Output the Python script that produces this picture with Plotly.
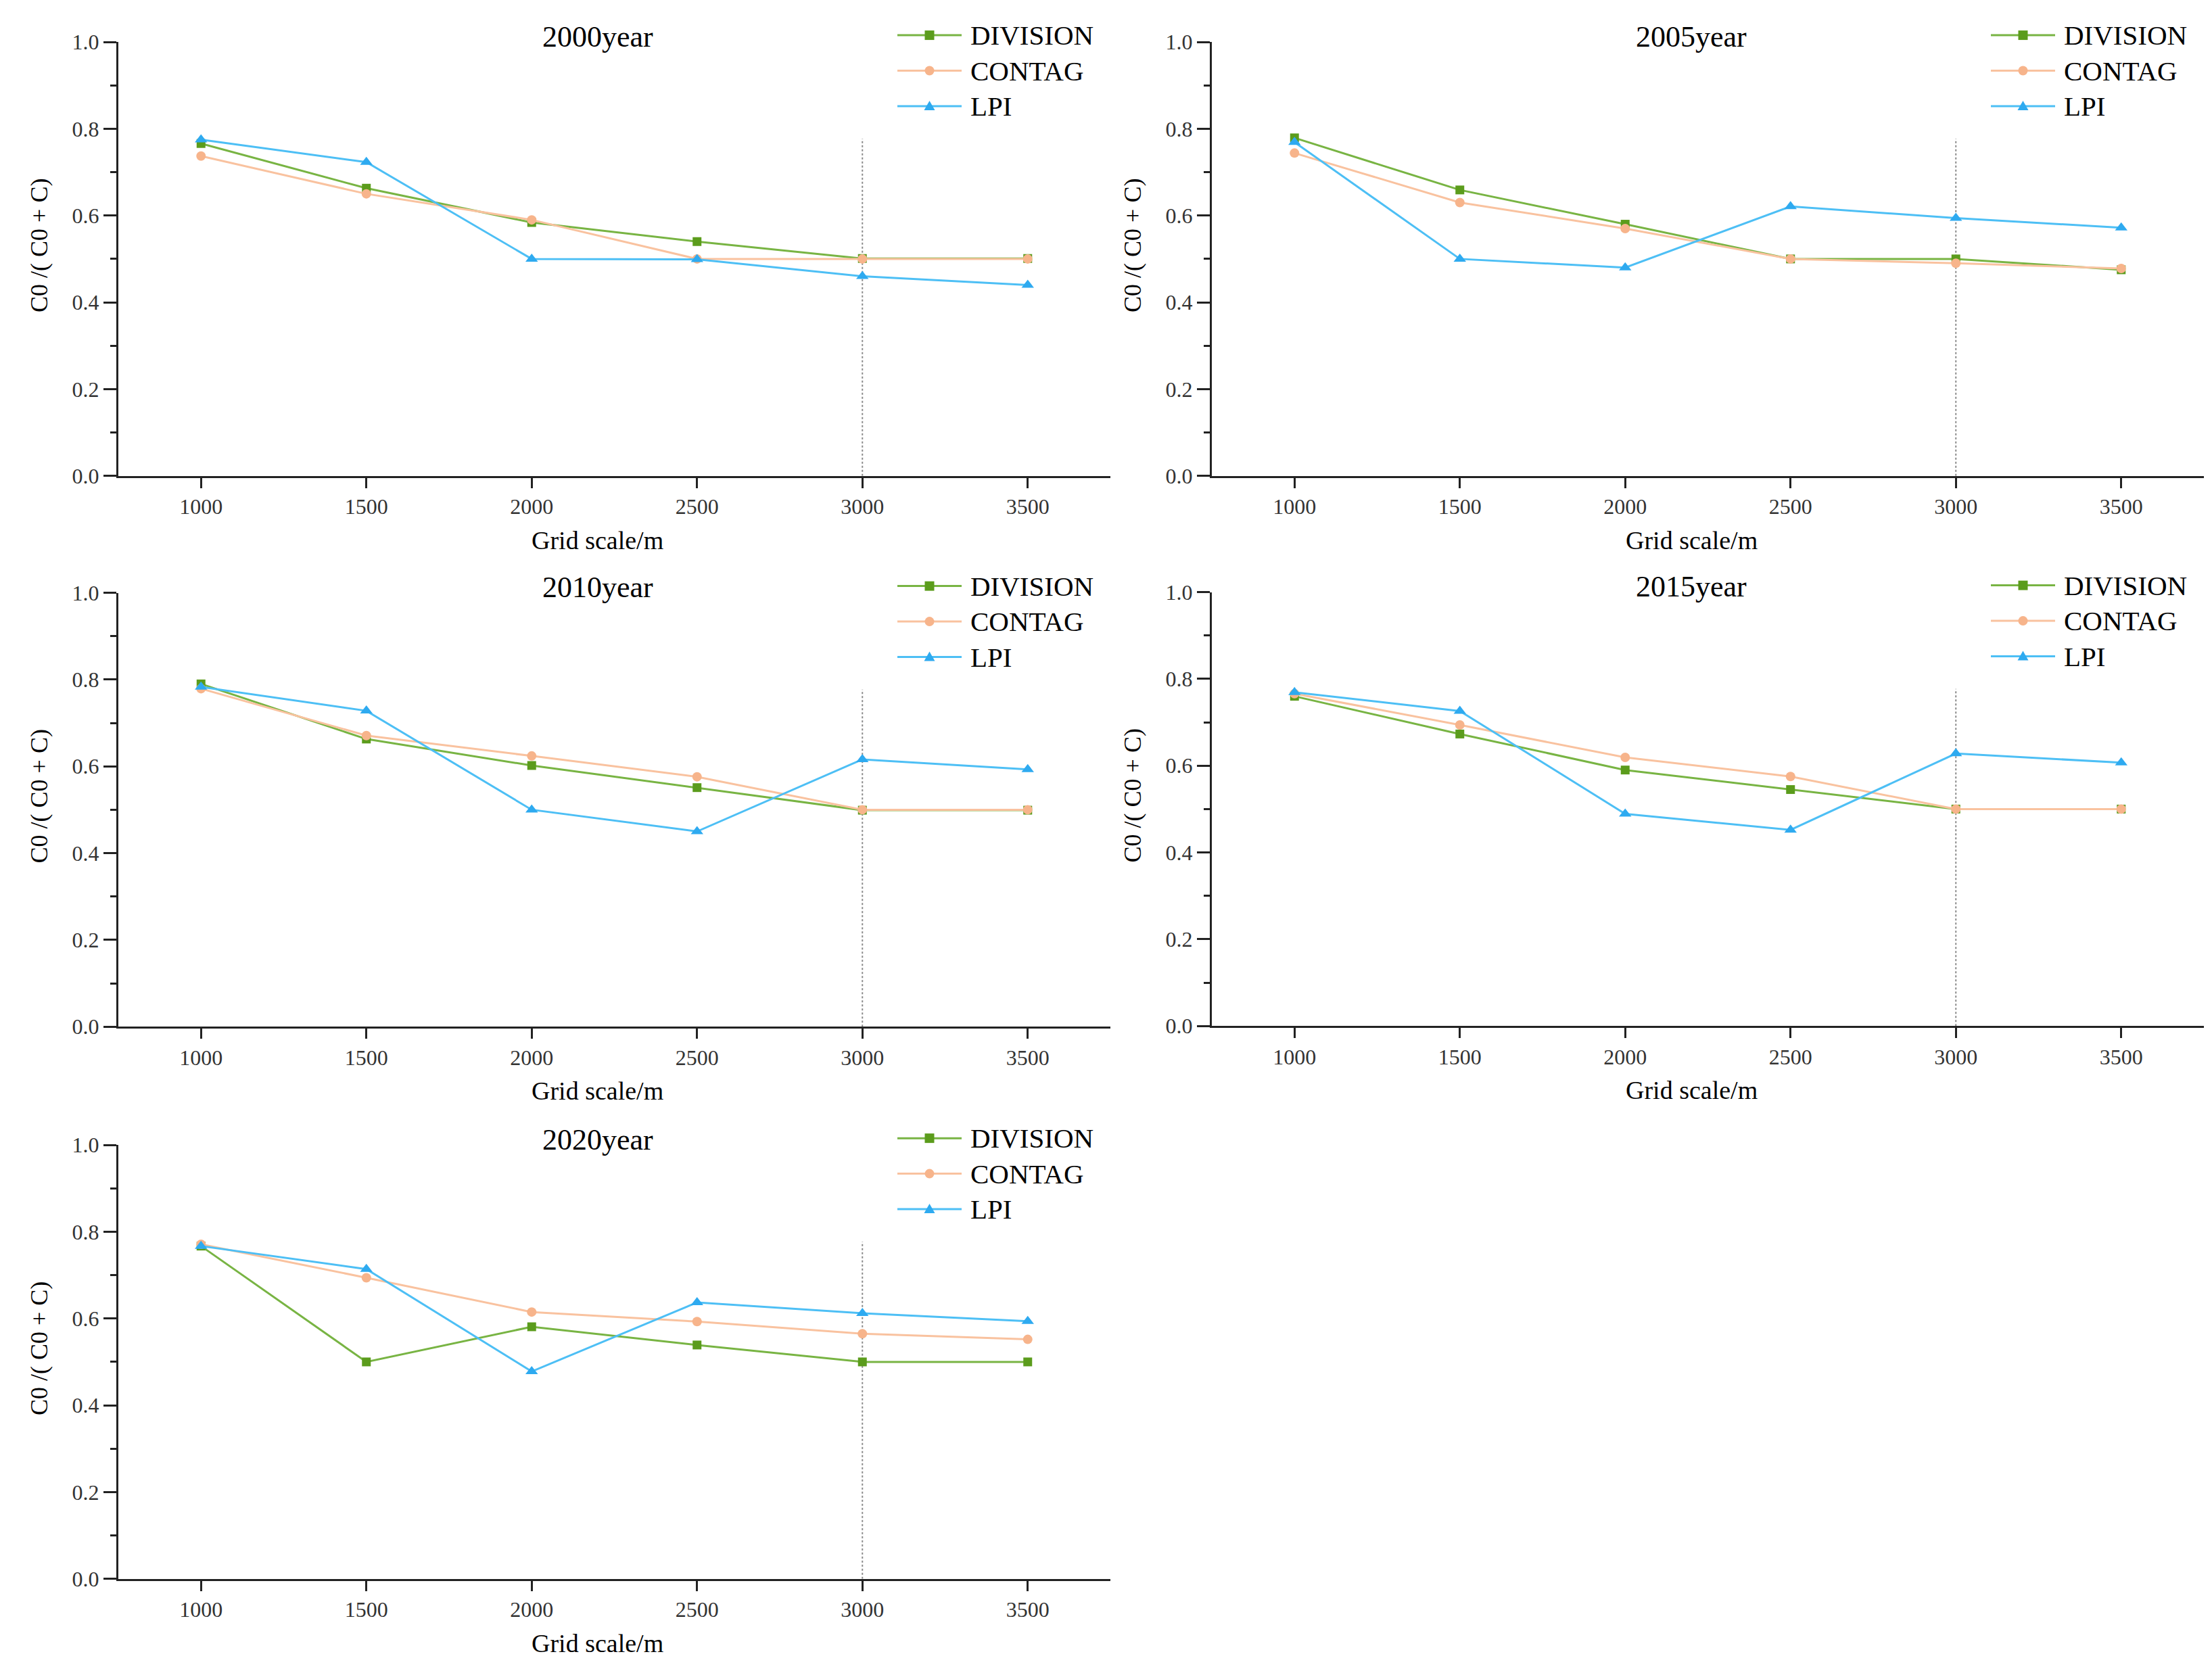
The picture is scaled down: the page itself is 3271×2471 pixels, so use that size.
import plotly.graph_objects as go

# ---------------- data ----------------
GRID_SCALE = [1000, 1500, 2000, 2500, 3000, 3500]
X_TICK_LABELS = ["1000", "1500", "2000", "2500", "3000", "3500"]
Y_TICKS = [0.0, 0.2, 0.4, 0.6, 0.8, 1.0]
Y_TICK_LABELS = ["0.0", "0.2", "0.4", "0.6", "0.8", "1.0"]
YEARS = ["2000year", "2005year", "2010year", "2015year", "2020year"]
SERIES = ["DIVISION", "CONTAG", "LPI"]

DIVISION_2000 = [0.766, 0.663, 0.584, 0.540, 0.501, 0.501]
CONTAG_2000 = [0.737, 0.650, 0.590, 0.500, 0.500, 0.500]
LPI_2000 = [0.775, 0.723, 0.500, 0.499, 0.460, 0.440]

DIVISION_2005 = [0.779, 0.659, 0.580, 0.500, 0.500, 0.475]
CONTAG_2005 = [0.744, 0.630, 0.570, 0.500, 0.490, 0.478]
LPI_2005 = [0.769, 0.500, 0.480, 0.621, 0.594, 0.572]

DIVISION_2010 = [0.790, 0.663, 0.602, 0.551, 0.499, 0.499]
CONTAG_2010 = [0.779, 0.671, 0.624, 0.576, 0.500, 0.500]
LPI_2010 = [0.783, 0.728, 0.500, 0.450, 0.616, 0.593]

DIVISION_2015 = [0.760, 0.673, 0.590, 0.545, 0.500, 0.500]
CONTAG_2015 = [0.766, 0.694, 0.619, 0.575, 0.500, 0.500]
LPI_2015 = [0.769, 0.726, 0.489, 0.452, 0.628, 0.607]

DIVISION_2020 = [0.767, 0.500, 0.581, 0.539, 0.500, 0.500]
CONTAG_2020 = [0.771, 0.694, 0.615, 0.593, 0.565, 0.552]
LPI_2020 = [0.767, 0.714, 0.478, 0.637, 0.612, 0.594]

PANEL_DATA = [
    [DIVISION_2000, CONTAG_2000, LPI_2000],
    [DIVISION_2005, CONTAG_2005, LPI_2005],
    [DIVISION_2010, CONTAG_2010, LPI_2010],
    [DIVISION_2015, CONTAG_2015, LPI_2015],
    [DIVISION_2020, CONTAG_2020, LPI_2020],
]

REF_SCALE = 3000      # dotted reference line position
REF_TOP = 0.777       # its upper end

# ---------------- styles ----------------
W, H = 3271, 2471
PANEL_W, PANEL_H = 1467, 642
ORIGINS = [(175, 62), (1792, 62), (175, 877), (1792, 876), (175, 1694)]

LINE_COLORS = ["#78b443", "#f9c29f", "#4dbff5"]
MARKER_COLORS = ["#5b9c1c", "#f7b48b", "#2eaaf0"]
SYMBOLS = ["square", "circle", "triangle-up"]
SIZES = [13, 14, 16]

FONT = "Liberation Serif"

# vertical calibration of the rendered page
V_OFF, V_SCALE = 17.9, 0.986

fig = go.Figure()
layout = dict(
    width=W, height=H,
    margin=dict(l=0, r=0, t=0, b=0),
    paper_bgcolor="white", plot_bgcolor="white",
    showlegend=False,
    font=dict(family=FONT, color="black"),
)

shapes = []
annotations = []


def px(x):
    return x / W


def py(y):
    return 1 - ((y - V_OFF) / V_SCALE) / H


for i, (lx, ty) in enumerate(ORIGINS):
    n = "" if i == 0 else str(i + 1)
    layout["xaxis" + n] = dict(
        domain=[px(lx), px(lx + PANEL_W)], anchor="y" + n,
        range=[750, 3750], tickvals=GRID_SCALE, ticktext=X_TICK_LABELS,
        ticks="outside", ticklen=15, tickwidth=3, tickcolor="#222",
        showline=True, linewidth=3, linecolor="#222",
        showgrid=False, zeroline=False,
        tickfont=dict(family=FONT, size=32, color="#333"),
    )
    layout["yaxis" + n] = dict(
        domain=[py(ty + PANEL_H), py(ty)], anchor="x" + n,
        range=[0, 1], tickvals=Y_TICKS, ticktext=Y_TICK_LABELS,
        ticks="outside", ticklen=19, tickwidth=3, tickcolor="#222",
        minor=dict(ticks="outside", ticklen=9, tickwidth=3, tickcolor="#222",
                   dtick=0.1, tick0=0, showgrid=False),
        showline=True, linewidth=3, linecolor="#222",
        showgrid=False, zeroline=False,
        tickfont=dict(family=FONT, size=32, color="#333"),
    )

    for k, name in enumerate(SERIES):
        fig.add_trace(go.Scatter(
            x=GRID_SCALE, y=PANEL_DATA[i][k], name=name,
            mode="lines+markers",
            line=dict(color=LINE_COLORS[k], width=3),
            marker=dict(symbol=SYMBOLS[k], size=SIZES[k], color=MARKER_COLORS[k]),
            xaxis="x" + n, yaxis="y" + n, showlegend=False, cliponaxis=False,
        ))

    # dotted reference line
    shapes.append(dict(
        type="line", xref="x" + n, yref="y" + n,
        x0=REF_SCALE, x1=REF_SCALE, y0=0, y1=REF_TOP,
        line=dict(color="#8a8a8a", width=2, dash="dot"), layer="below",
    ))

    # panel title
    annotations.append(dict(
        xref="paper", yref="paper", x=px(lx + 709), y=py(ty - 8),
        xanchor="center", yanchor="middle", showarrow=False,
        text=YEARS[i], font=dict(family=FONT, size=44, color="black"),
    ))
    # x axis title
    annotations.append(dict(
        xref="paper", yref="paper", x=px(lx + 709), y=py(ty + PANEL_H + 95),
        xanchor="center", yanchor="middle", showarrow=False,
        text="Grid scale/m", font=dict(family=FONT, size=38, color="black"),
    ))
    # y axis title
    annotations.append(dict(
        xref="paper", yref="paper", x=px(lx - 117), y=py(ty + 301),
        xanchor="center", yanchor="middle", showarrow=False, textangle=-90,
        text="C0 /( C0 + C)", font=dict(family=FONT, size=36, color="black"),
    ))

    # legend (drawn manually to get long key lines)
    for k, name in enumerate(SERIES):
        yy = ty - 10 + 52.5 * k
        x0, x1 = lx + 1152, lx + 1247
        xc = (x0 + x1) / 2
        shapes.append(dict(
            type="line", xref="paper", yref="paper",
            x0=px(x0), x1=px(x1), y0=py(yy), y1=py(yy),
            line=dict(color=LINE_COLORS[k], width=3),
        ))
        if SYMBOLS[k] == "square":
            shapes.append(dict(
                type="rect", xref="paper", yref="paper",
                x0=px(xc - 7), x1=px(xc + 7), y0=py(yy + 7), y1=py(yy - 7),
                fillcolor=MARKER_COLORS[k], line=dict(width=0),
            ))
        elif SYMBOLS[k] == "circle":
            shapes.append(dict(
                type="circle", xref="paper", yref="paper",
                x0=px(xc - 7), x1=px(xc + 7), y0=py(yy + 7), y1=py(yy - 7),
                fillcolor=MARKER_COLORS[k], line=dict(width=0),
            ))
        else:
            path = "M {} {} L {} {} L {} {} Z".format(
                px(xc - 8), py(yy + 6), px(xc + 8), py(yy + 6), px(xc), py(yy - 8))
            shapes.append(dict(
                type="path", xref="paper", yref="paper", path=path,
                fillcolor=MARKER_COLORS[k], line=dict(width=0),
            ))
        annotations.append(dict(
            xref="paper", yref="paper", x=px(lx + 1258), y=py(yy),
            xanchor="left", yanchor="middle", showarrow=False,
            text=name, font=dict(family=FONT, size=41, color="black"),
        ))

layout["shapes"] = shapes
layout["annotations"] = annotations
fig.update_layout(**layout)

fig.write_html(
    "out.html",
    config={"displayModeBar": False},
    post_script="document.body.style.margin='0';document.body.style.overflow='hidden';",
)
